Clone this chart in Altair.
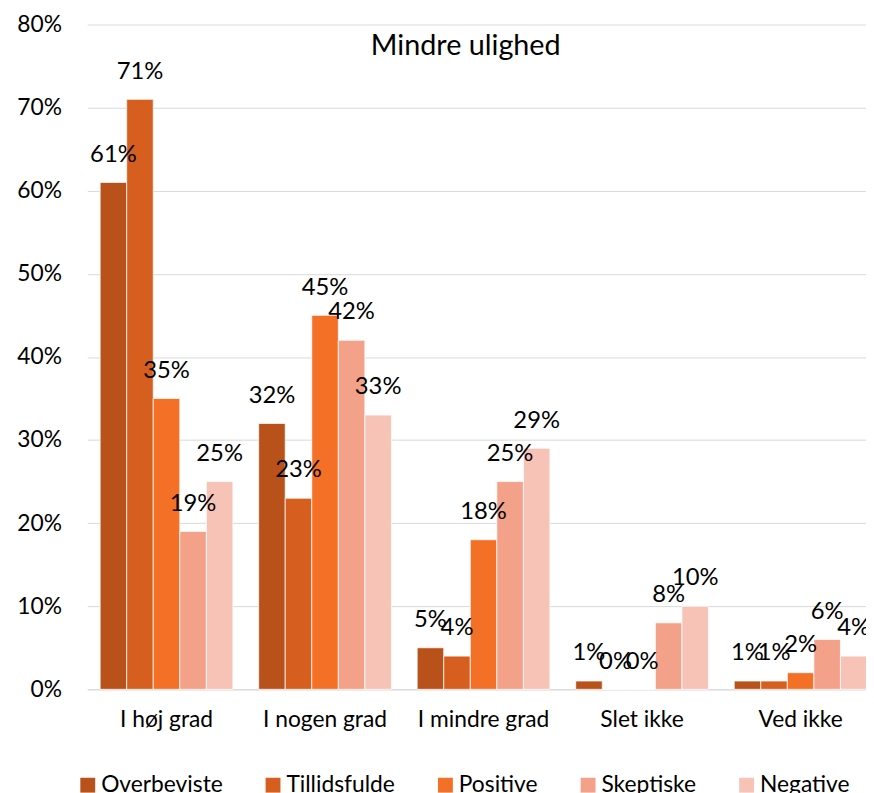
import altair as alt
import pandas as pd

categories = ["I høj grad", "I nogen grad", "I mindre grad", "Slet ikke", "Ved ikke"]
groups = ["Overbeviste", "Tillidsfulde", "Positive", "Skeptiske", "Negative"]
overbeviste = [61, 32, 5, 1, 1]
tillidsfulde = [71, 23, 4, 0, 1]
positive = [35, 45, 18, 0, 2]
skeptiske = [19, 42, 25, 8, 6]
negative = [25, 33, 29, 10, 4]
colors = ["#B8521A", "#D65F20", "#F47026", "#F4A18A", "#F8C3B7"]
y_ticks = [0, 0.1, 0.2, 0.3, 0.4, 0.5, 0.6, 0.7, 0.8]

series = [overbeviste, tillidsfulde, positive, skeptiske, negative]
rows = []
for g, vals in zip(groups, series):
    for c, v in zip(categories, vals):
        rows.append({"kategori": c, "gruppe": g, "andel": v / 100})
df = pd.DataFrame(rows)

FONT = "Lato"

x = alt.X(
    "kategori:N",
    sort=categories,
    scale=alt.Scale(range=[0, 800], paddingInner=0.1625, paddingOuter=0.08125),
    axis=alt.Axis(
        title=None, labelAngle=0, ticks=False, domainColor="#D9D9D9", domainWidth=1,
        labelFontSize=23, labelPadding=20, labelColor="black", labelFont=FONT,
    ),
)
xo = alt.XOffset("gruppe:N", sort=groups, scale=alt.Scale(paddingInner=0, paddingOuter=0))
y = alt.Y(
    "andel:Q",
    scale=alt.Scale(domain=[0, 0.8]),
    axis=alt.Axis(
        values=y_ticks, format=".0%", title=None, grid=True, gridColor="#D9D9D9",
        domain=False, ticks=False, labelPadding=26, labelFontSize=23,
        labelColor="black", labelFont=FONT,
    ),
)
color = alt.Color(
    "gruppe:N",
    sort=groups,
    scale=alt.Scale(domain=groups, range=colors),
    legend=alt.Legend(
        title=None, orient="none", direction="horizontal", legendX=-11, legendY=756,
        symbolType="square", symbolSize=225, symbolStrokeWidth=0,
        labelFontSize=23, labelFont=FONT, labelColor="black", labelOffset=2,
        columnPadding=39, columns=5,
    ),
)

bars = alt.Chart(df).mark_bar(stroke="white", strokeWidth=0.75).encode(
    x=x, xOffset=xo, y=y, color=color
)
labels = alt.Chart(df).mark_text(
    baseline="alphabetic", dy=-21, fontSize=24, font=FONT, color="black"
).encode(x=x, xOffset=xo, y=y, text=alt.Text("andel:Q", format=".0%"))

chart = (
    alt.layer(bars, labels)
    .properties(
        width=786,
        height=671,
        autosize=alt.AutoSizeParams(type="none"),
        padding={"left": 80, "top": 13, "right": 0, "bottom": 105},
        title=alt.TitleParams(
            "Mindre ulighed", fontSize=29, font=FONT, fontWeight="normal",
            color="black", anchor="middle", frame="group", baseline="top",
            offset=0, dx=-11, dy=48,
        ),
    )
    .configure_view(stroke=None)
)

chart.save("out.html", embed_options={"renderer": "svg", "actions": False})
